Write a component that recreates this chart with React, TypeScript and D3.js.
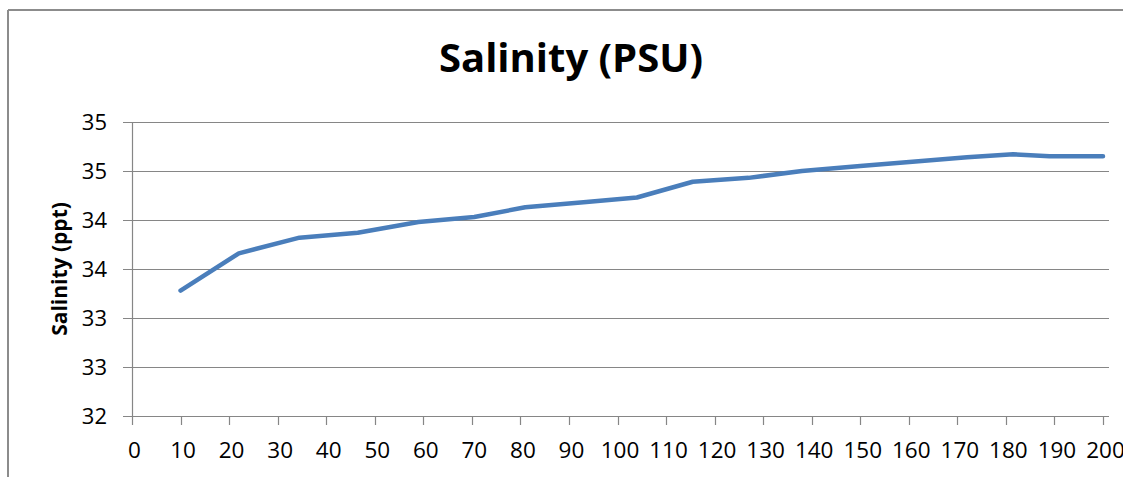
import React from 'react'
import * as d3 from 'd3'

// depth values along the x axis and matching salinity readings
const depth = [10, 22, 34.5, 46.5, 59, 70.5, 81, 93, 104, 115.5, 127, 138, 150, 162, 172, 181.5, 189, 200]
const salinity = [33.28, 33.66, 33.82, 33.87, 33.98, 34.03, 34.13, 34.18, 34.23, 34.39, 34.43, 34.5, 34.55, 34.6, 34.64, 34.67, 34.65, 34.65]

const xTicks = d3.range(0, 201, 10)
const yTicks = [32, 32.5, 33, 33.5, 34, 34.5, 35]

const W = 1123
const H = 477

const App = () => {
  const x = d3.scaleLinear().domain([0, 200]).range([132, 1103])
  const y = d3.scaleLinear().domain([32, 35]).range([416, 122])
  const plotRight = 1109

  const line = d3.line<number>()
    .x((d, i) => x(depth[i]))
    .y(d => y(d))

  const font = '"Open Sans", sans-serif'

  return (
    <svg width={W} height={H} style={{ position: 'absolute', left: 0, top: 0, background: '#fff' }}>
      <rect x={0} y={0} width={W} height={H} fill="#fff" />
      {/* chart border */}
      <line x1={8} x2={W} y1={10} y2={10} stroke="#8c8c8c" strokeWidth={2} />
      <line x1={8} x2={8} y1={10} y2={H} stroke="#8c8c8c" strokeWidth={2} />

      <text x={571} y={72} textAnchor="middle" fontFamily={font} fontWeight="bold" fontSize={40} fill="#000">
        Salinity (PSU)
      </text>

      {/* gridlines + y ticks */}
      {yTicks.map(t => (
        <g key={t}>
          <line x1={123} x2={plotRight} y1={Math.round(y(t)) + 0.5} y2={Math.round(y(t)) + 0.5} stroke="#868686" strokeWidth={1.2} />
          <text x={107} y={y(t)} dy="0.35em" textAnchor="end" fontFamily={font} fontSize={22} fill="#000">
            {d3.format('.0f')(t + 1e-9)}
          </text>
        </g>
      ))}

      {/* y axis line */}
      <line x1={132.5} x2={132.5} y1={122} y2={416} stroke="#868686" strokeWidth={1.2} />

      {/* x ticks */}
      {xTicks.map(t => (
        <g key={t}>
          <line x1={Math.round(x(t)) + 0.5} x2={Math.round(x(t)) + 0.5} y1={416} y2={425} stroke="#868686" strokeWidth={1.2} />
          <text x={x(t) + 2.5} y={458} textAnchor="middle" fontFamily={font} fontSize={22.5} fill="#000">
            {t}
          </text>
        </g>
      ))}

      <text transform="translate(67, 269) rotate(-90)" textAnchor="middle" fontFamily={font} fontWeight="bold" fontSize={21} fill="#000">
        Salinity (ppt)
      </text>

      <path d={line(salinity) || ''} fill="none" stroke="#4a7ebb" strokeWidth={4.5} strokeLinejoin="round" strokeLinecap="round" />
    </svg>
  )
}

export default App
